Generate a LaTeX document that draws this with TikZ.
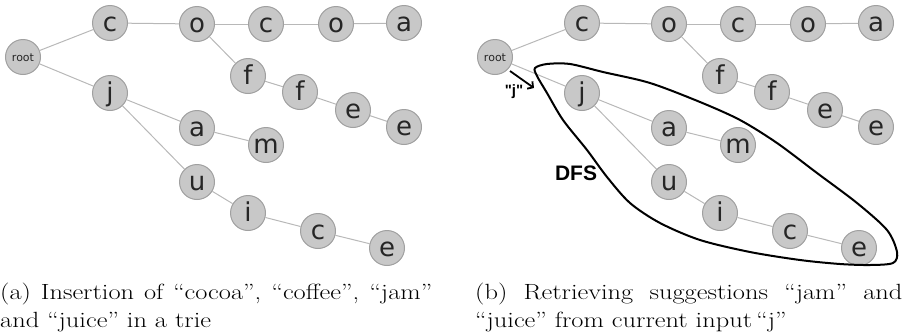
\documentclass[tikz,border=0pt]{standalone}
\usepackage{fontspec}
\usetikzlibrary{arrows.meta}
\newfontfamily\trienodefont{DejaVu Sans}
\newfontfamily\annfont{Liberation Sans}
\definecolor{nodefill}{HTML}{C8C8C8}
\definecolor{nodeline}{HTML}{A0A0A0}
\definecolor{edgecol}{HTML}{B8B8B8}
\tikzset{
  tn/.style={circle, draw=nodeline, fill=nodefill, line width=1pt, minimum size=35pt,
    inner sep=0pt, text height=16pt, text depth=0pt,
    font=\trienodefont\fontsize{26}{26}\selectfont, text=black!85},
  rootn/.style={tn, text height=8pt, font=\trienodefont\fontsize{11}{11}\selectfont},
  edge/.style={draw=edgecol, line width=1pt},
  dfsloop/.style={draw=black, line width=2pt},
  ann/.style={font=\annfont\bfseries, text=black, inner sep=0pt},
  caption/.style={inner sep=0pt, anchor=base west},
}
\newcommand\trie[1]{%
  \node[rootn] (#1root) at (23,57) {root};
  \node[tn] (#1c1) at (110,23) {c};
  \node[tn] (#1o1) at (197,24) {o};
  \node[tn] (#1c2) at (266,24) {c};
  \node[tn] (#1o2) at (336,24) {o};
  \node[tn] (#1a1) at (404,23) {a};
  \node[tn] (#1f1) at (248,76) {f};
  \node[tn] (#1f2) at (300,92) {f};
  \node[tn] (#1e1) at (353,110) {e};
  \node[tn] (#1e2) at (404,127) {e};
  \node[tn] (#1j) at (110,93) {j};
  \node[tn] (#1a2) at (197,128) {a};
  \node[tn] (#1m) at (266,145) {m};
  \node[tn] (#1u) at (197,182) {u};
  \node[tn] (#1i) at (248,213) {i};
  \node[tn] (#1c3) at (318,231) {c};
  \node[tn] (#1e3) at (387,248) {e};
  \foreach \s/\t in {root/c1, root/j, c1/o1, o1/c2, c2/o2, o2/a1, o1/f1, f1/f2, f2/e1, e1/e2,
                     j/a2, a2/m, j/u, u/i, i/c3, c3/e3}
    {\draw[edge] (#1\s) -- (#1\t);}
}
\begin{document}
\begin{tikzpicture}[x=1pt, y=-1pt]
\useasboundingbox (0,0) rectangle (902,335);
\begin{scope}
  \trie{L}
\end{scope}
\begin{scope}[xshift=472pt]
  \trie{R}
\end{scope}
% DFS loop
\draw[dfsloop] plot[smooth cycle, tension=0.5] coordinates {
  (535,68) (547,64) (570,64) (603,72) (650,83) (700,102) (740,120) (777,143)
  (817,173) (857,203) (887,230) (897,252) (893,263) (870,265) (840,264)
  (800,260) (750,252) (700,240) (660,223) (630,203) (607,177) (587,150)
  (563,120) (547,93) (537,76)};
\node[ann, font=\annfont\bfseries\fontsize{21}{21}\selectfont] (dfs) at (576,173) {DFS};
% arrow for input "j"
\coordinate (arrS) at (510,71);
\coordinate (arrE) at (534,88);
\draw[line width=1.8pt, -{Straight Barb[length=4pt,width=9pt]}] (arrS) -- (arrE);
\node[ann, font=\annfont\bfseries\fontsize{15}{15}\selectfont] (jlab) at (514,92) {"j"};
% captions
\node[caption] (capa) at (0,299) {\scalebox{1.2}[1]{\parbox[t]{360pt}{\fontsize{22}{28}\selectfont
  (a) Insertion of “cocoa”, “coffee”, “jam”\linebreak and “juice” in a trie}}};
\node[caption] (capb) at (475,299) {\scalebox{1.2}[1]{\parbox[t]{356pt}{\fontsize{22}{28}\selectfont
  (b) Retrieving suggestions “jam” and\linebreak “juice” from current input\,“j”}}};
\end{tikzpicture}
\end{document}
